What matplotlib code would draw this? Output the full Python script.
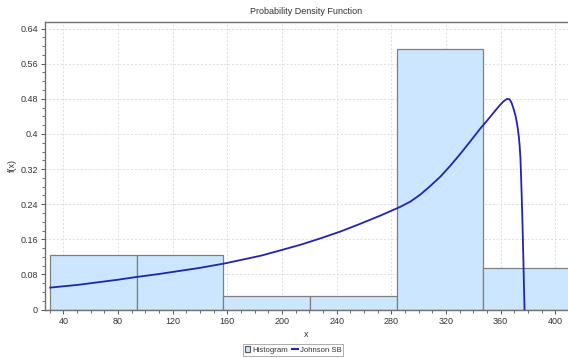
import matplotlib
matplotlib.use("Agg")
import matplotlib.pyplot as plt
from matplotlib.ticker import MultipleLocator, FuncFormatter
from matplotlib.patches import Patch
from matplotlib.lines import Line2D

# Histogram bins (edges) and relative frequencies
bin_edges = [30.4, 93.8, 157.2, 220.6, 284.0, 347.4, 410.8]
bin_heights = [0.125, 0.125, 0.03125, 0.03125, 0.59375, 0.09375]

# Johnson SB curve
curve_x = [30.4, 40, 50, 60, 70, 80, 93.8, 110, 125, 140, 158, 170, 185, 199,
           214, 228, 243, 257, 272, 286.6, 294, 301.3, 308, 316, 323, 330.6,
           338, 345.3, 350, 355, 359, 362, 364.8, 366.5, 368, 369.7, 371,
           372.2, 373.2, 373.9, 374.5, 375.0, 375.5, 376.0, 376.6, 377.1, 377.5]
curve_y = [0.050, 0.053, 0.056, 0.060, 0.064, 0.068, 0.0743, 0.081, 0.088, 0.095,
           0.105, 0.113, 0.123, 0.135, 0.148, 0.162, 0.178, 0.195, 0.214, 0.234,
           0.246, 0.262, 0.280, 0.303, 0.327, 0.355, 0.384, 0.413, 0.430, 0.449,
           0.464, 0.474, 0.480, 0.479, 0.471, 0.455, 0.440, 0.420, 0.397, 0.374,
           0.345, 0.300, 0.250, 0.196, 0.120, 0.050, 0.0]

x_ticks = [40, 80, 120, 160, 200, 240, 280, 320, 360, 400]
y_ticks = [0, 0.08, 0.16, 0.24, 0.32, 0.4, 0.48, 0.56, 0.64]

plt.rcParams['font.family'] = ['Liberation Sans', 'DejaVu Sans']

fig = plt.figure(figsize=(5.68, 3.58), dpi=100)
ax = fig.add_axes([45/568, 1 - 310/358, 523/568, 288/358])

bar_face = '#cce6ff'
bar_edge = '#7f7f7f'
line_col = '#2222b8'

for i, h in enumerate(bin_heights):
    l, r = bin_edges[i], bin_edges[i + 1]
    ax.bar(l, h, width=r - l, align='edge', color=bar_face, edgecolor=bar_edge,
           linewidth=0.9, zorder=2)

ax.plot(curve_x, curve_y, color=line_col, linewidth=1.3, zorder=3,
        solid_joinstyle='round')

ax.set_xlim(26.6, 409.3)
ax.set_ylim(-0.001, 0.655)
ax.set_xticks(x_ticks)
ax.set_yticks(y_ticks)
ax.xaxis.set_minor_locator(MultipleLocator(10))
ax.yaxis.set_minor_locator(MultipleLocator(0.02))
ax.yaxis.set_major_formatter(FuncFormatter(lambda v, p: '%g' % round(v, 2)))

ax.grid(True, which='major', color='#dddddd', linestyle=(0, (2, 2)), linewidth=0.7, zorder=0)
ax.set_axisbelow(True)

for s in ['top', 'left', 'bottom']:
    ax.spines[s].set_color('#707070')
    ax.spines[s].set_linewidth(1.0)
ax.spines['right'].set_visible(False)

ax.tick_params(axis='both', which='major', direction='out', length=3, width=0.7,
               color='#555555', labelsize=6.5, labelcolor='#333333', pad=2)
ax.tick_params(axis='both', which='minor', direction='out', length=2, width=0.6,
               color='#555555')

ax.set_title('Probability Density Function', fontsize=6.5, color='#333333', pad=6)
ax.set_xlabel('x', fontsize=6.5, color='#333333', labelpad=3)
ax.set_ylabel('f(x)', fontsize=6.5, color='#333333')
ax.yaxis.set_label_coords(-28/523, 0.5)

handles = [Patch(facecolor=bar_face, edgecolor='#555555', linewidth=0.8, label='Histogram'),
           Line2D([0], [0], color=line_col, linewidth=1.5, label='Johnson SB')]
leg = fig.legend(handles=handles, loc='center', bbox_to_anchor=(293/568, 1 - 350/358),
                 ncol=2, fontsize=5.6, frameon=True, fancybox=False, edgecolor='#999999',
                 handlelength=0.7, handleheight=0.8, handletextpad=0.25, columnspacing=0.6,
                 borderpad=0.25, labelcolor='#333333')
leg.get_frame().set_linewidth(0.7)

fig.savefig('out.png', dpi=100)
